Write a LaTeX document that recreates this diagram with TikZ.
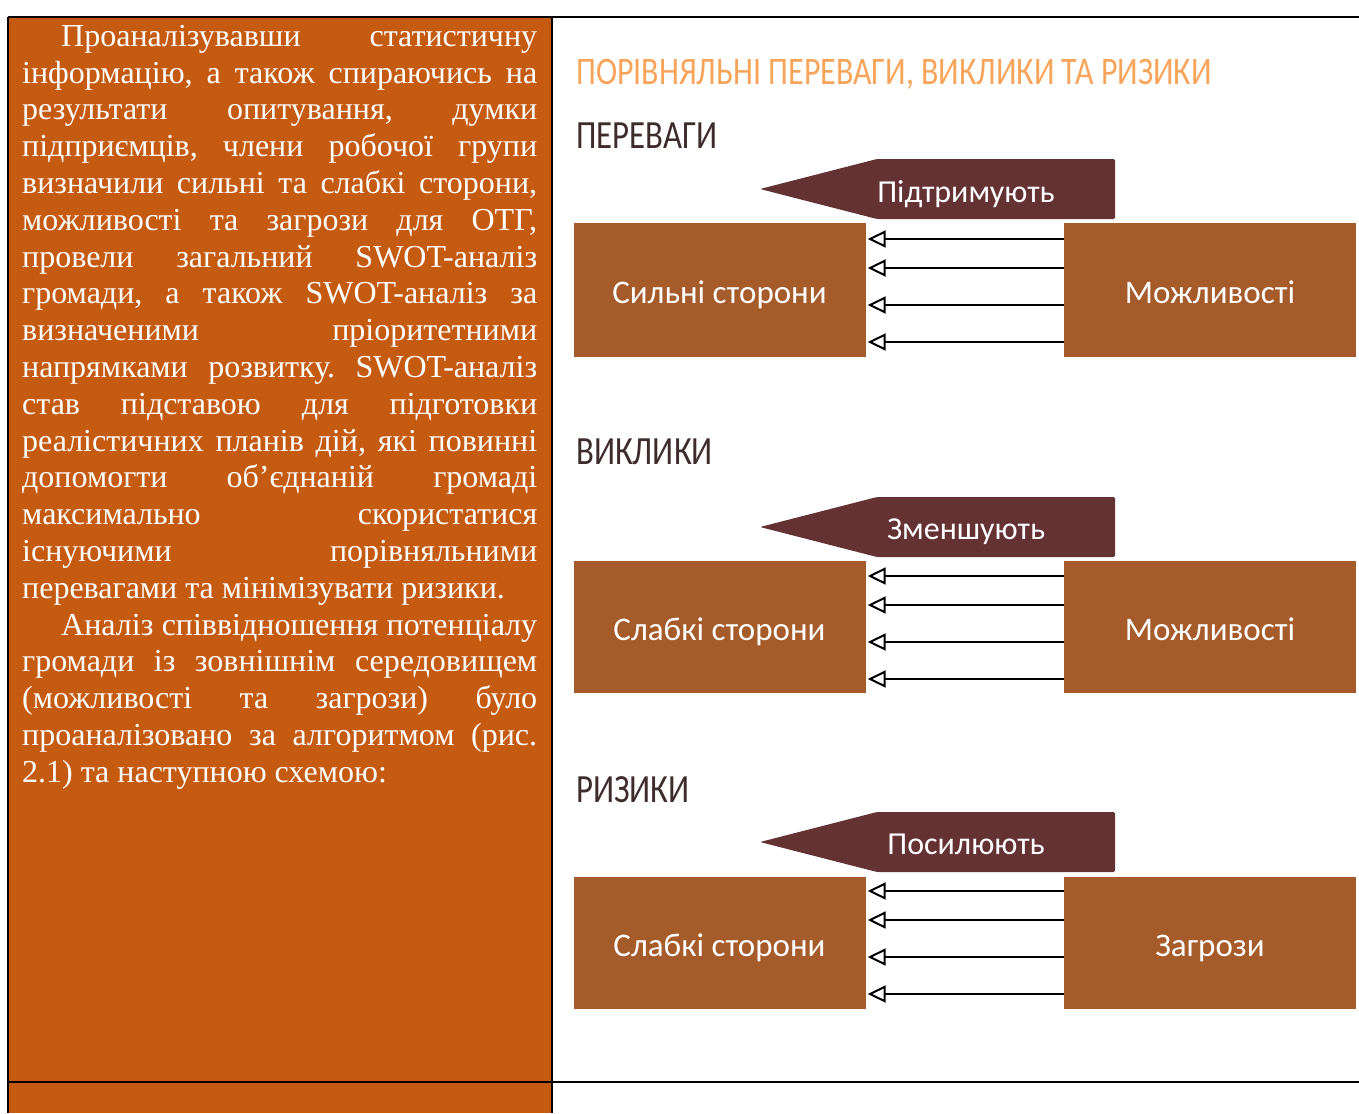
\documentclass[tikz,border=0pt]{standalone}
\usepackage{fontspec}
\setmainfont{Liberation Serif}
\newfontfamily\boxfont{Carlito}
\newfontfamily\condfont[FakeStretch=0.82]{Carlito}
\usetikzlibrary{arrows.meta,positioning}
\definecolor{panelorange}{HTML}{C55A11}
\definecolor{boxbrown}{HTML}{A65B2B}
\definecolor{bannerred}{HTML}{653234}
\definecolor{titleorange}{HTML}{F8A55B}
\definecolor{headdark}{HTML}{3E2B2C}
\tikzset{
	swotbox/.style={fill=boxbrown, minimum width=292pt, minimum height=134pt, inner sep=0pt, text=white,
		text height=30pt, text depth=4pt, font=\boxfont\fontsize{33}{40}\selectfont},
	banner/.style={fill=bannerred, rounded corners=1.5pt},
	bannertext/.style={anchor=base, inner sep=0pt, text=white, font=\boxfont\fontsize{32}{38}\selectfont},
	heading/.style={anchor=base west, inner sep=0pt, text=headdark, font=\condfont\fontsize{40}{46}\selectfont},
	opentip/.style={-{Triangle[open, length=18pt, width=17pt, line width=2pt]}, line width=1.7pt, shorten >=2pt},
	rule/.style={line width=2.2pt}
}
\begin{document}
\begin{tikzpicture}[x=1pt, y=-1pt]
	\useasboundingbox (0,0) rectangle (1359,1113);
	% left column
	\fill[panelorange] (8,17) rectangle (552,1113);
	\node[anchor=north west, inner sep=0pt, text width=515pt, align=justify, text=white,
		font=\fontsize{32}{36.8}\selectfont] (swottext) at (22,25) {\frenchspacing\hyphenpenalty=10000\exhyphenpenalty=10000
		\hspace*{39pt}Проаналізувавши статистичну\linebreak
		інформацію, а також спираючись на\linebreak
		результати опитування, думки\linebreak
		підприємців, члени робочої групи\linebreak
		визначили сильні та слабкі сторони,\linebreak
		можливості та загрози для ОТГ,\linebreak
		провели загальний SWOT-аналіз\linebreak
		громади, а також SWOT-аналіз за\linebreak
		визначеними пріоритетними\linebreak
		напрямками розвитку. SWOT-аналіз\linebreak
		став підставою для підготовки\linebreak
		реалістичних планів дій, які повинні\linebreak
		допомогти об’єднаній громаді\linebreak
		максимально скористатися\linebreak
		існуючими порівняльними\linebreak
		перевагами та мінімізувати ризики.\par
		\hspace*{39pt}Аналіз співвідношення потенціалу\linebreak
		громади із зовнішнім середовищем\linebreak
		(можливості та загрози) було\linebreak
		проаналізовано за алгоритмом (рис.\linebreak
		2.1) та наступною схемою:\par};
	% table rules
	\draw[rule] (8,17) -- (1359,17);
	\draw[rule] (8,1082) -- (1359,1082);
	\draw[rule] (8,17) -- (8,1113);
	\draw[rule] (552,17) -- (552,1113);
	% right column
	\node[heading, text=titleorange, font=\condfont\fontsize{39}{45}\selectfont] (title) at (576,85) {ПОРІВНЯЛЬНІ ПЕРЕВАГИ, ВИКЛИКИ ТА РИЗИКИ};
	% advantages
	\node[heading] (adv) at (576,149) {ПЕРЕВАГИ};
	\fill[banner] (877,159) -- (1115,159) -- (1115,219) -- (877,219) -- (760,189) -- cycle;
	\node[bannertext] (supp) at (966,202) {Підтримують};
	\node[swotbox] (strong1) at (719.5,290) {Сильні сторони};
	\node[swotbox] (opp1) at (1210,290) {Можливості};
	\foreach \dy in {51,22,-15,-52}
		\draw[opentip] ([yshift=\dy pt]opp1.west) -- ([yshift=\dy pt]strong1.east);
	% challenges
	\node[heading] (chal) at (576,464) {ВИКЛИКИ};
	\fill[banner] (877,497) -- (1115,497) -- (1115,557) -- (877,557) -- (760,527) -- cycle;
	\node[bannertext] (redu) at (966,539) {Зменшують};
	\node[swotbox, minimum height=132pt] (weak2) at (719.5,627) {Слабкі сторони};
	\node[swotbox, minimum height=132pt] (opp2) at (1210,627) {Можливості};
	\foreach \dy in {51,22,-15,-52}
		\draw[opentip] ([yshift=\dy pt]opp2.west) -- ([yshift=\dy pt]weak2.east);
	% risks
	\node[heading] (risk) at (576,802) {РИЗИКИ};
	\fill[banner] (877,812) -- (1115,812) -- (1115,872) -- (877,872) -- (760,842) -- cycle;
	\node[bannertext] (ampl) at (966,854) {Посилюють};
	\node[swotbox, minimum height=132pt] (weak3) at (719.5,943) {Слабкі сторони};
	\node[swotbox, minimum height=132pt] (thr3) at (1210,943) {Загрози};
	\foreach \dy in {52,23,-14,-51}
		\draw[opentip] ([yshift=\dy pt]thr3.west) -- ([yshift=\dy pt]weak3.east);
\end{tikzpicture}
\end{document}
